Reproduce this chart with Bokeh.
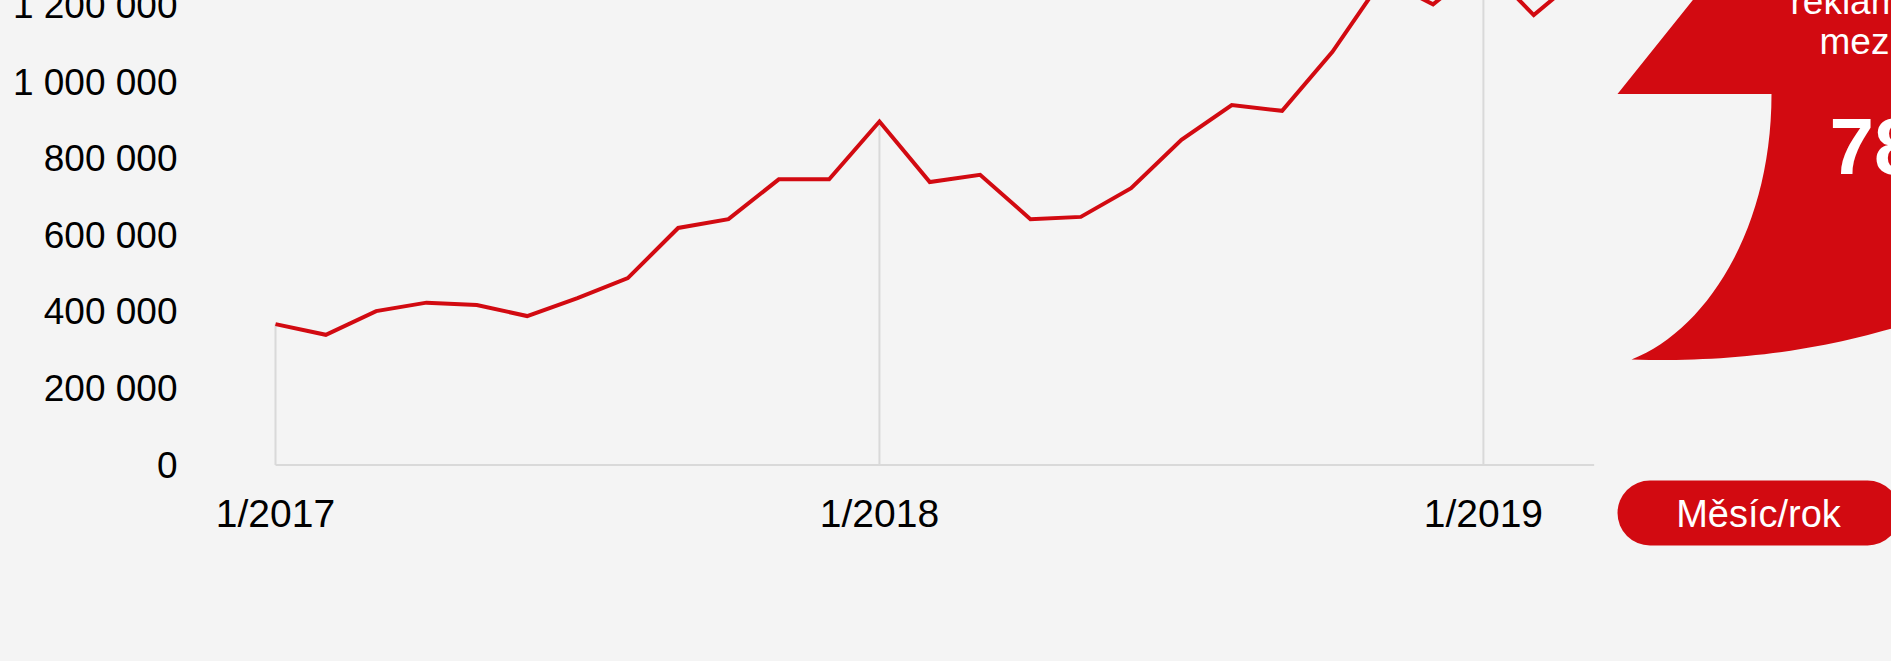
from bokeh.plotting import figure
from bokeh.models import ColumnDataSource, FixedTicker, Range1d, GlobalInlineStyleSheet
from bokeh.core.properties import value
from bokeh.embed import file_html
from bokeh.resources import INLINE

# ---------------- data ----------------
months = ["1/2017", "2/2017", "3/2017", "4/2017", "5/2017", "6/2017", "7/2017", "8/2017",
          "9/2017", "10/2017", "11/2017", "12/2017", "1/2018", "2/2018", "3/2018", "4/2018",
          "5/2018", "6/2018", "7/2018", "8/2018", "9/2018", "10/2018", "11/2018", "12/2018",
          "1/2019", "2/2019", "3/2019"]
ad_count = [368000, 340000, 402000, 424000, 418000, 389000, 436000, 488000,
            619000, 642000, 746000, 746000, 897000, 739000, 758000, 642000,
            648000, 723000, 849000, 940000, 925000, 1079000, 1270000, 1203000,
            1310000, 1175000, 1285000]
x_tick_labels = ["1/2017", "1/2018", "1/2019"]
y_ticks = [0, 200000, 400000, 600000, 800000, 1000000, 1200000]
y_tick_labels = ["0", "200 000", "400 000", "600 000", "800 000", "1 000 000", "1 200 000"]
axis_title = "Měsíc/rok"
callout_lines = ["reklamních", "meziročně"]
callout_value = "78 %"

# ---------------- style / layout ----------------
BG = "#f4f4f4"
RED = "#d20a11"
GRID = "#d9d9d9"
FONT = "Liberation Sans"
VW, VH = 1891, 661                   # visible window
OFF = 30                             # canvas extends this far above the window
W, H = VW, VH + OFF
FRAME_L = 190                        # frame left (px)
FRAME_B = 561                        # frame bottom (screen px)
X0_PX, MONTH_PX = 275.0, 50.33       # screen px of first month, px per month
Y0_PX, MILLION_PX = 464.5, 382.9     # screen px of value 0, px per 1 000 000

xs = (FRAME_L - X0_PX) / MONTH_PX
xe = (W - X0_PX) / MONTH_PX
ys = -(FRAME_B - Y0_PX) / MILLION_PX * 1e6
ye = (Y0_PX + OFF) / MILLION_PX * 1e6


def px_x(px):
    return (px - X0_PX) / MONTH_PX


def px_y(py):
    return (Y0_PX - py) / MILLION_PX * 1e6


idx = list(range(len(months)))
jan_idx = [i for i, m in enumerate(months) if m.startswith("1/")]

p = figure(width=W, height=H, output_backend="svg", toolbar_location=None, title=None,
           x_range=Range1d(xs, xe), y_range=Range1d(ys, ye),
           min_border_left=FRAME_L, min_border_right=0, min_border_top=0,
           min_border_bottom=H - (FRAME_B + OFF),
           background_fill_color=BG, border_fill_color=BG, outline_line_color=None)
p.stylesheets = [GlobalInlineStyleSheet(
    css="html,body{margin:0;padding:0;background:#f4f4f4;overflow:hidden;}"
        "body{position:relative;top:-%dpx;}" % OFF)]
p.grid.visible = False

# axes
p.yaxis.ticker = FixedTicker(ticks=y_ticks)
p.yaxis.major_label_overrides = {t: l for t, l in zip(y_ticks, y_tick_labels)}
p.xaxis.ticker = FixedTicker(ticks=jan_idx)
p.xaxis.major_label_overrides = {t: l for t, l in zip(jan_idx, x_tick_labels)}
p.xaxis.fixed_location = 0
for ax in (p.xaxis, p.yaxis):
    ax.axis_line_color = None
    ax.major_tick_line_color = None
    ax.minor_tick_line_color = None
    ax.major_tick_out = 0
    ax.major_tick_in = 0
    ax.major_label_text_font = FONT
    ax.major_label_text_color = "#000000"
p.yaxis.major_label_text_font_size = "37px"
p.yaxis.major_label_standoff = 13
p.xaxis.major_label_text_font_size = "39px"
p.xaxis.major_label_standoff = 27

# baseline and January drop lines
p.segment(x0=[idx[0]], y0=[0], x1=[idx[-1] + 0.2], y1=[0], line_color=GRID, line_width=2)
p.segment(x0=jan_idx, y0=[0] * len(jan_idx), x1=jan_idx, y1=[ad_count[i] for i in jan_idx],
          line_color=GRID, line_width=2)

# data line
src = ColumnDataSource(dict(x=idx, y=ad_count, month=months))
p.line("x", "y", source=src, line_color=RED, line_width=4, line_join="miter")


# decorative callout shape (screen px -> data)
def bezier(p0, p1, p2, p3, n=30):
    pts = []
    for k in range(n + 1):
        t = k / n
        a, b, c, d = (1 - t) ** 3, 3 * (1 - t) ** 2 * t, 3 * (1 - t) * t ** 2, t ** 3
        pts.append((a * p0[0] + b * p1[0] + c * p2[0] + d * p3[0],
                    a * p0[1] + b * p1[1] + c * p2[1] + d * p3[1]))
    return pts


shape = [(1716, -30), (1617, 93.5), (1771, 93.5)]
shape += bezier((1771, 93.5), (1771, 230), (1705, 330), (1631, 359))[1:]
shape += bezier((1631, 359), (1720, 362), (1810, 352), (1891, 328))[1:]
shape += [(1960, 300), (1960, -30)]
p.patch([px_x(a) for a, b in shape], [px_y(b) for a, b in shape],
        fill_color=RED, line_color=None)

# callout texts
p.text(x=[px_x(1790), px_x(1819)], y=[px_y(1), px_y(40.5)], text=callout_lines,
       text_color="white", text_font=value(FONT), text_font_size="37px",
       text_align="left", text_baseline="alphabetic")
p.text(x=[px_x(1829)], y=[px_y(146)], text=[callout_value],
       text_color="white", text_font=value(FONT), text_font_size="80px",
       text_font_style="bold", text_align="left", text_baseline="alphabetic")

# x-axis title pill
p.segment(x0=[px_x(1649.5)], y0=[px_y(512.5)], x1=[px_x(1867)], y1=[px_y(512.5)],
          line_color=RED, line_width=65, line_cap="round")
p.text(x=[px_x(1758)], y=[px_y(513)], text=[axis_title], text_color="white",
       text_font=value(FONT), text_font_size="38px", text_align="center",
       text_baseline="alphabetic")

open("out.html", "w").write(file_html(p, INLINE))
